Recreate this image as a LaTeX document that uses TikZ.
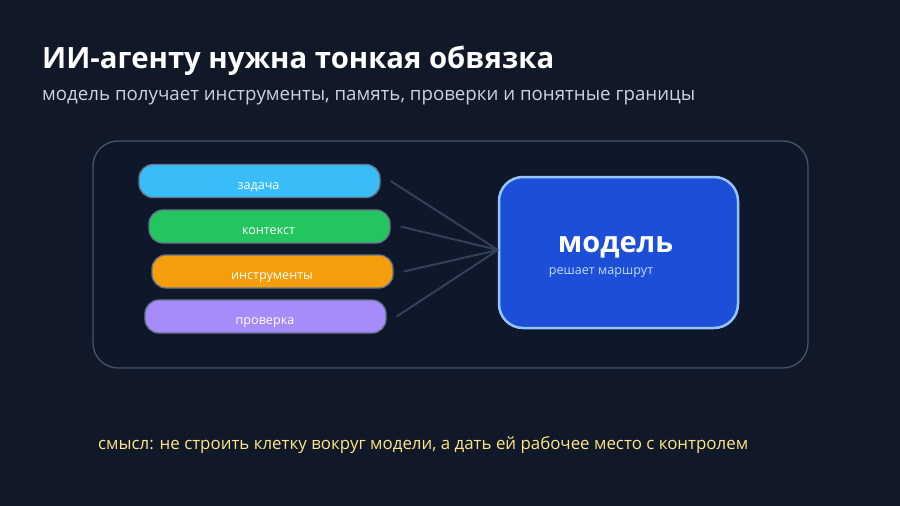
\documentclass[tikz,border=0pt]{standalone}
\usepackage{fontspec}
\setmainfont{Open Sans}
\usetikzlibrary{positioning}
\definecolor{bg}{HTML}{111827}
\definecolor{panel}{HTML}{0F172A}
\definecolor{panelline}{HTML}{475569}
\definecolor{boxline}{HTML}{64748B}
\definecolor{conn}{HTML}{334155}
\definecolor{cA}{HTML}{38BDF8}
\definecolor{cB}{HTML}{22C55E}
\definecolor{cC}{HTML}{F59E0B}
\definecolor{cD}{HTML}{A78BFA}
\definecolor{modelfill}{HTML}{1D4ED8}
\definecolor{modelline}{HTML}{93C5FD}
\definecolor{subtxt}{HTML}{CBD5E1}
\definecolor{modelsub}{HTML}{BFDBFE}
\definecolor{note}{HTML}{FDE68A}
\tikzset{
  x=1pt, y=-1pt,
  inbox/.style={draw=boxline, line width=1.3pt, rounded corners=14pt, minimum width=241pt, minimum height=33pt, inner sep=0pt},
  inlabel/.style={text=white, inner sep=0pt, font=\fontsize{12.6}{14}\selectfont},
  link/.style={draw=conn, line width=2pt},
}
\begin{document}
\begin{tikzpicture}
\fill[bg] (0,0) rectangle (900,506);
\useasboundingbox (0,0) rectangle (900,506);
\node[anchor=base west, text=white, font=\fontsize{29.3}{32}\selectfont\bfseries, inner sep=0pt] (title) at (42,68.5) {ИИ-агенту нужна тонкая обвязка};
\node[anchor=base west, text=subtxt, font=\fontsize{18.7}{22}\selectfont, inner sep=0pt] (sub) at (42,100) {модель получает инструменты, память, проверки и понятные границы};
\draw[panelline, fill=panel, line width=1.3pt, rounded corners=25pt] (93,141) rectangle (808,368);
\node[inbox, fill=cA] (t1) at (259.5,181) {};
\node[inbox, fill=cB] (t2) at (269.5,226.5) {};
\node[inbox, fill=cC] (t3) at (272.5,271.5) {};
\node[inbox, fill=cD] (t4) at (265.5,316.5) {};
\node[inlabel, anchor=base] (l1) at (258.5,189.5) {задача};
\node[inlabel, anchor=base] (l2) at (268.5,234) {контекст};
\node[inlabel, anchor=base] (l3) at (272,279) {инструменты};
\node[inlabel, anchor=base] (l4) at (265,324.5) {проверка};
\node[draw=modelline, fill=modelfill, line width=2.5pt, rounded corners=24pt, minimum width=239pt, minimum height=151pt, inner sep=0pt] (m) at (618.5,252.5) {};
\node[text=white, font=\fontsize{29}{32}\selectfont\bfseries, inner sep=0pt, anchor=base] (mt) at (615.5,252) {модель};
\node[text=modelsub, font=\fontsize{12.6}{14}\selectfont, inner sep=0pt, anchor=base] (ms) at (601,274) {решает маршрут};
\coordinate (hub) at (498,250);
\draw[link] ([xshift=10pt]t1.east) -- (hub);
\draw[link] ([xshift=10pt]t2.east) -- (hub);
\draw[link] ([xshift=10pt]t3.east) -- (hub);
\draw[link] ([xshift=10pt]t4.east) -- (hub);
\node[anchor=base west, text=note, font=\fontsize{16.9}{19}\selectfont, inner sep=0pt] (nt) at (98,449) {смысл: не строить клетку вокруг модели, а дать ей рабочее место с контролем};
\end{tikzpicture}
\end{document}
